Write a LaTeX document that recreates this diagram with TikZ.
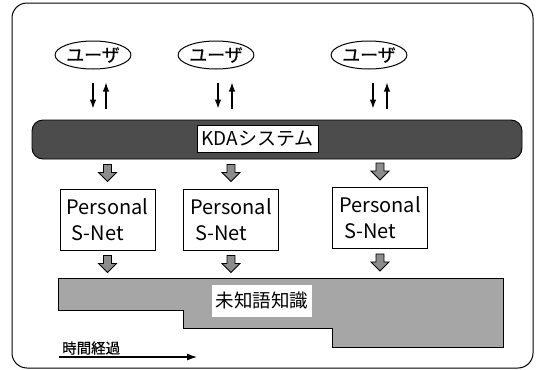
\documentclass[tikz,border=0pt]{standalone}
\usepackage{fontspec}
\setmainfont{Noto Sans CJK JP}
\newfontfamily\jpsemi[FakeBold=0.6]{Noto Sans CJK JP}
\usetikzlibrary{arrows.meta,shapes.geometric}
\begin{document}
\begin{tikzpicture}[x=1pt,y=-1pt,
  frame/.style={draw=black, line width=1pt, rounded corners=15pt},
  usernode/.style={ellipse, draw, line width=1pt, minimum width=63pt, minimum height=28pt, inner sep=0pt, font=\jpsemi\fontsize{18}{18}\selectfont},
  thinarr/.style={line width=1.3pt, -{Latex[length=9pt,width=6.5pt]}},
  kdabar/.style={draw, line width=0.9pt, fill=black!70, rounded corners=11pt, minimum width=490pt, minimum height=39pt, inner sep=0pt},
  labelbox/.style={fill=white, draw=black, line width=0.4pt, inner sep=0pt, font=\fontsize{19}{19}\selectfont},
  knowbox/.style={fill=white, inner sep=0pt, font=\fontsize{18.5}{18.5}\selectfont},
  snet/.style={draw, line width=0.9pt, minimum width=95pt, minimum height=61pt, align=left, inner sep=0pt, font=\fontsize{20}{26}\selectfont},
  knowregion/.style={draw, line width=0.9pt, fill=black!35},
  blockarr/.pic={\draw[line width=0.8pt, fill=black!45, line join=miter] (-4,0) -- (4,0) -- (4,8) -- (9,8) -- (0,17) -- (-9,8) -- (-4,8) -- cycle;},
  timearr/.style={line width=1.1pt, -{Latex[length=10pt,width=7pt]}},
  timelabel/.style={font=\jpsemi\fontsize{14.5}{14.5}\selectfont, inner sep=0pt, anchor=base west}
]
\useasboundingbox (0,0) rectangle (539,370);
% outer frame
\draw[frame] (12,3) rectangle (533,368);

% users
\node[usernode] (u1) at (93,55) {ユーザ};
\node[usernode] (u2) at (216,55) {ユーザ};
\node[usernode] (u3) at (369,55) {ユーザ};

% KDA bar
\node[kdabar] (kda) at (277,139.5) {};
\node[labelbox, minimum width=121pt, minimum height=27pt] (kdalabel) at (257.5,138.5) {KDAシステム};

% thin arrows
\foreach \u/\dl/\dr in {u1/0/13, u2/2/16, u3/4/18} {
  \draw[thinarr, shorten <=13pt, shorten >=11pt] ([xshift=\dl pt]\u.south) -- ([xshift=\dl pt]\u.south |- kda.north);
  \draw[thinarr, shorten <=11pt, shorten >=13pt] ([xshift=\dr pt]\u.south |- kda.north) -- ([xshift=\dr pt]\u.south);
}

% Personal S-Net boxes
\node[snet] (b1) at (107.5,219.5) {Personal\\\hspace*{0.25em}S-Net};
\node[snet] (b2) at (231,219.5) {Personal\\\hspace*{0.25em}S-Net};
\node[snet] (b3) at (380,218) {Personal\\\hspace*{0.25em}S-Net};

% block arrows KDA -> boxes -> knowledge
\foreach \b in {b1,b2,b3} {
  \path (\b.north) ++(0,-24) pic {blockarr};
  \path (\b.south) ++(0,5) pic {blockarr};
}

% knowledge region
\draw[knowregion] (58,278) -- (503,278) -- (503,347) -- (332,347) -- (332,328) -- (183,328) -- (183,310) -- (58,310) -- cycle;
\node[knowbox, minimum width=100pt, minimum height=32pt] (know) at (262,301) {未知語知識};

% time arrow
\coordinate (t0) at (59,357);
\coordinate (t1) at (197,357);
\draw[timearr] (t0) -- (t1);
\node[timelabel] (tl) at (62,353.5) {時間経過};
\end{tikzpicture}
\end{document}
